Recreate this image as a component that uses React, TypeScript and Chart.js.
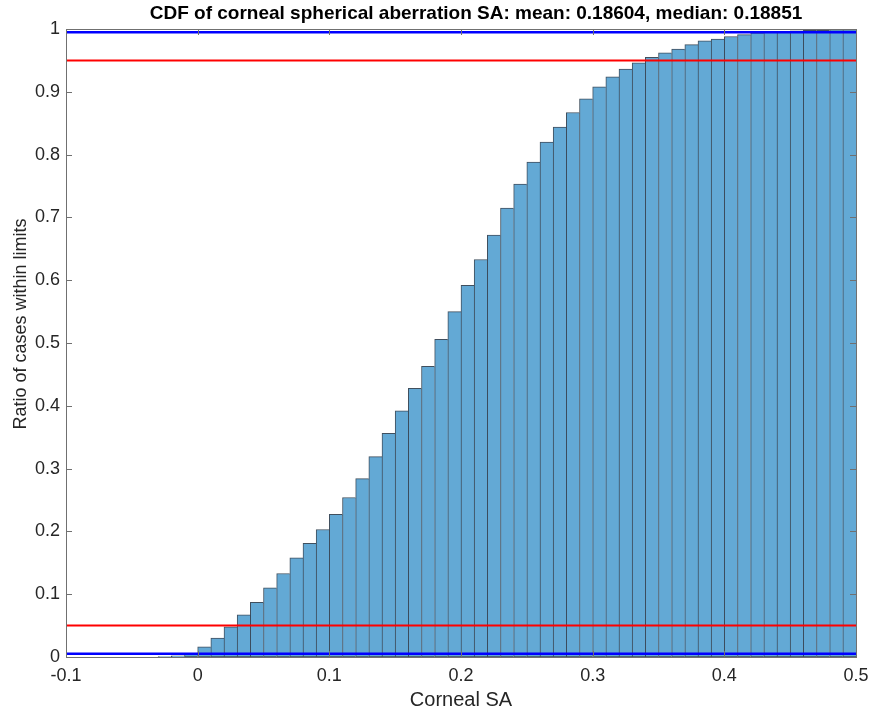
import React, { useEffect, useRef } from 'react';
import { Chart, registerables } from 'chart.js';

Chart.register(...registerables);

const titleText = 'CDF of corneal spherical aberration SA: mean: 0.18604, median: 0.18851';
const xAxisLabel = 'Corneal SA';
const yAxisLabel = 'Ratio of cases within limits';

const binWidth = 0.01;
const binLeftEdges = [
  -0.03, -0.02, -0.01, 0.0, 0.01, 0.02, 0.03, 0.04, 0.05, 0.06,
  0.07, 0.08, 0.09, 0.1, 0.11, 0.12, 0.13, 0.14, 0.15, 0.16,
  0.17, 0.18, 0.19, 0.2, 0.21, 0.22, 0.23, 0.24, 0.25, 0.26,
  0.27, 0.28, 0.29, 0.3, 0.31, 0.32, 0.33, 0.34, 0.35, 0.36,
  0.37, 0.38, 0.39, 0.4, 0.41, 0.42, 0.43, 0.44, 0.45, 0.46,
  0.47, 0.48, 0.49,
];
const cdfValues = [
  0.0008, 0.002, 0.006, 0.016, 0.030, 0.048, 0.067, 0.087, 0.110, 0.133,
  0.158, 0.181, 0.203, 0.227, 0.254, 0.284, 0.319, 0.356, 0.392, 0.428,
  0.463, 0.506, 0.550, 0.592, 0.633, 0.672, 0.715, 0.753, 0.788, 0.820,
  0.844, 0.867, 0.889, 0.908, 0.924, 0.936, 0.946, 0.955, 0.962, 0.968,
  0.975, 0.981, 0.984, 0.988, 0.991, 0.994, 0.995, 0.996, 0.997, 0.998,
  0.998, 0.999, 0.999,
];
const redLimits = [0.05, 0.95];
const blueLimits = [0.005, 0.995];
const xRange = [-0.1, 0.5];
const yRange = [0, 1];
const xTicks = [-0.1, 0, 0.1, 0.2, 0.3, 0.4, 0.5];
const yTicks = [0, 0.1, 0.2, 0.3, 0.4, 0.5, 0.6, 0.7, 0.8, 0.9, 1];

const FONT = '"Liberation Sans", Arial, Helvetica, sans-serif';
const TEXT_COLOR = '#262626';

const fmt = (v: number) => String(Math.round(v * 10) / 10);

const axisDecor = {
  id: 'axisDecor',
  afterDraw(chart: any) {
    const { ctx, chartArea: a, scales } = chart;
    const xs = scales.x;
    const ys = scales.y;
    ctx.save();
    ctx.strokeStyle = '#707070';
    ctx.lineWidth = 1;
    const tl = 6;
    ctx.beginPath();
    xTicks.forEach((v) => {
      const px = Math.round(xs.getPixelForValue(v)) + 0.5;
      ctx.moveTo(px, a.bottom);
      ctx.lineTo(px, a.bottom - tl);
      ctx.moveTo(px, a.top);
      ctx.lineTo(px, a.top + tl);
    });
    yTicks.forEach((v) => {
      const py = Math.round(ys.getPixelForValue(v)) + 0.5;
      ctx.moveTo(a.left, py);
      ctx.lineTo(a.left + tl, py);
      ctx.moveTo(a.right, py);
      ctx.lineTo(a.right - tl, py);
    });
    ctx.stroke();
    ctx.strokeRect(Math.round(a.left) + 0.5, Math.round(a.top) + 0.5, Math.round(a.right - a.left), Math.round(a.bottom - a.top));
    // title
    ctx.fillStyle = '#000';
    ctx.font = `bold 19px ${FONT}`;
    ctx.textAlign = 'center';
    ctx.textBaseline = 'middle';
    ctx.fillText(titleText, 476, 14);
    // y axis label
    ctx.fillStyle = TEXT_COLOR;
    ctx.font = `18px ${FONT}`;
    ctx.translate(21, 324);
    ctx.rotate(-Math.PI / 2);
    ctx.fillText(yAxisLabel, 0, 0);
    ctx.restore();
  },
};

function limitLine(value: number, color: string, width: number) {
  return {
    type: 'line' as const,
    data: [
      { x: xRange[0], y: value },
      { x: xRange[1], y: value },
    ],
    borderColor: color,
    borderWidth: width,
    pointRadius: 0,
    fill: false,
    order: 0,
  };
}

export default function App() {
  const ref = useRef<HTMLCanvasElement | null>(null);

  useEffect(() => {
    document.body.style.margin = '0';
    const canvas = ref.current;
    if (!canvas) return;
    const chart = new Chart(canvas, {
      type: 'bar',
      data: {
        datasets: [
          {
            type: 'bar',
            data: binLeftEdges.map((e, i) => ({ x: e + binWidth / 2, y: cdfValues[i] })),
            backgroundColor: 'rgb(99,169,213)',
            borderColor: 'rgba(30,48,66,0.85)',
            borderWidth: 1,
            borderSkipped: 'right',
            barPercentage: 1,
            categoryPercentage: 1,
            grouped: false,
            order: 2,
          } as any,
          limitLine(redLimits[0], 'rgb(255,0,0)', 2),
          limitLine(redLimits[1], 'rgb(255,0,0)', 2),
          limitLine(blueLimits[0], 'rgb(0,0,255)', 2.5),
          limitLine(blueLimits[1], 'rgb(0,0,255)', 2.5),
        ],
      },
      options: {
        responsive: false,
        animation: false,
        layout: { padding: { top: 29, right: 15, left: 0, bottom: 0 } },
        plugins: {
          legend: { display: false },
          tooltip: { enabled: false },
          title: { display: false },
        },
        scales: {
          x: {
            type: 'linear',
            min: xRange[0],
            max: xRange[1],
            offset: false,
            afterBuildTicks: (s: any) => {
              s.ticks = xTicks.map((v) => ({ value: v }));
            },
            afterFit: (s: any) => {
              s.height = 56;
              s.paddingLeft = 0;
              s.paddingRight = 0;
            },
            grid: { display: false, drawTicks: false },
            border: { display: false },
            ticks: {
              font: { family: FONT, size: 18 },
              color: TEXT_COLOR,
              padding: 8,
              maxRotation: 0,
              autoSkip: false,
              callback: (v: any) => fmt(Number(v)),
            },
            title: {
              display: true,
              text: xAxisLabel,
              font: { family: FONT, size: 20 },
              color: TEXT_COLOR,
              padding: { top: 0, bottom: 1 },
            },
          },
          y: {
            type: 'linear',
            min: yRange[0],
            max: yRange[1],
            afterBuildTicks: (s: any) => {
              s.ticks = yTicks.map((v) => ({ value: v }));
            },
            afterFit: (s: any) => {
              s.width = 66;
              s.paddingTop = 0;
              s.paddingBottom = 0;
            },
            grid: { display: false, drawTicks: false },
            border: { display: false },
            ticks: {
              font: { family: FONT, size: 18 },
              color: TEXT_COLOR,
              padding: 6,
              autoSkip: false,
              callback: (v: any) => fmt(Number(v)),
            },
            title: { display: false },
          },
        },
      } as any,
      plugins: [axisDecor],
    });
    return () => chart.destroy();
  }, []);

  return (
    <canvas
      ref={ref}
      width={871}
      height={713}
      style={{ display: 'block', width: 871, height: 713 }}
    />
  );
}
